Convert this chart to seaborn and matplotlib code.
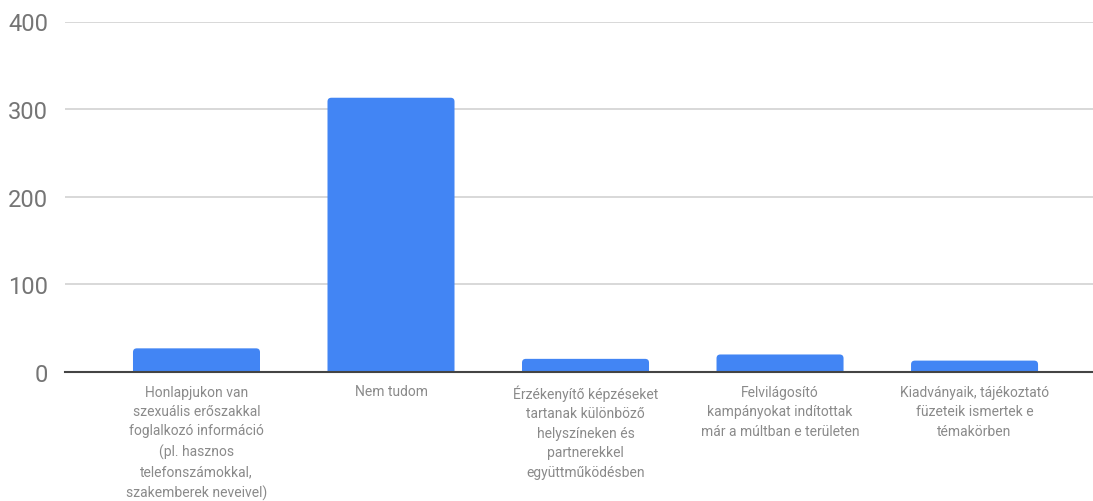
import matplotlib
matplotlib.use("Agg")
import matplotlib.pyplot as plt
from matplotlib.patches import FancyBboxPatch
import seaborn as sns
import pandas as pd

categories = [
    "Honlapjukon van\nszexuális erőszakkal\nfoglalkozó információ\n(pl. hasznos\ntelefonszámokkal,\nszakemberek neveivel)",
    "Nem tudom",
    "Érzékenyítő képzéseket\ntartanak különböző\nhelyszíneken és\npartnerekkel\negyüttműködésben",
    "Felvilágosító\nkampányokat indítottak\nmár a múltban e területen",
    "Kiadványaik, tájékoztató\nfüzeteik ismertek e\ntémakörben",
]
counts = [27, 313, 15, 20, 13]
y_ticks = [0, 100, 200, 300, 400]

df = pd.DataFrame({"category": categories, "count": counts})

sns.set_theme(style="white")
plt.rcParams["font.family"] = ["Roboto", "DejaVu Sans"]

fig = plt.figure(figsize=(10.93, 5.02), dpi=100)
ax = fig.add_axes([65 / 1093, 1 - 373 / 502, 1 - 65 / 1093, (373 - 22.5) / 502])

sns.barplot(data=df, x="category", y="count", color="#4285F4", width=0.653,
            saturation=1, ax=ax, zorder=3)

ax.set_xlim(-0.676, 4.609)
ax.set_ylim(0, 400)

# Give the bars softly rounded top corners; the bottom corners sit below the
# baseline and are clipped away by the axes.
radius_x = 0.02
extend = 6
for bar in list(ax.patches):
    x0, w, h = bar.get_x(), bar.get_width(), bar.get_height()
    rounded = FancyBboxPatch(
        (x0, -extend), w, h + extend,
        boxstyle=f"round,pad=0,rounding_size={radius_x}",
        mutation_aspect=220,
        facecolor=bar.get_facecolor(), edgecolor="none",
        zorder=3, clip_on=True,
    )
    bar.remove()
    ax.add_patch(rounded)

ax.set_yticks(y_ticks)
ax.set_yticklabels([str(t) for t in y_ticks], fontsize=17, color="#757575")
ax.tick_params(axis="y", length=0, pad=12)
ax.tick_params(axis="x", length=0, pad=9)
for lbl in ax.get_xticklabels():
    lbl.set_fontsize(10)
    lbl.set_color("#8a8a8a")
    lbl.set_linespacing(1.5)
    lbl.set_verticalalignment("top")

ax.yaxis.grid(True, color="#d6d6d6", linewidth=1.3, zorder=0)
ax.xaxis.grid(False)
for side in ["top", "right", "left"]:
    ax.spines[side].set_visible(False)
ax.spines["bottom"].set_color("#444444")
ax.spines["bottom"].set_linewidth(1.5)
ax.spines["bottom"].set_zorder(4)
ax.set_xlabel("")
ax.set_ylabel("")

fig.savefig("out.png", dpi=100)
